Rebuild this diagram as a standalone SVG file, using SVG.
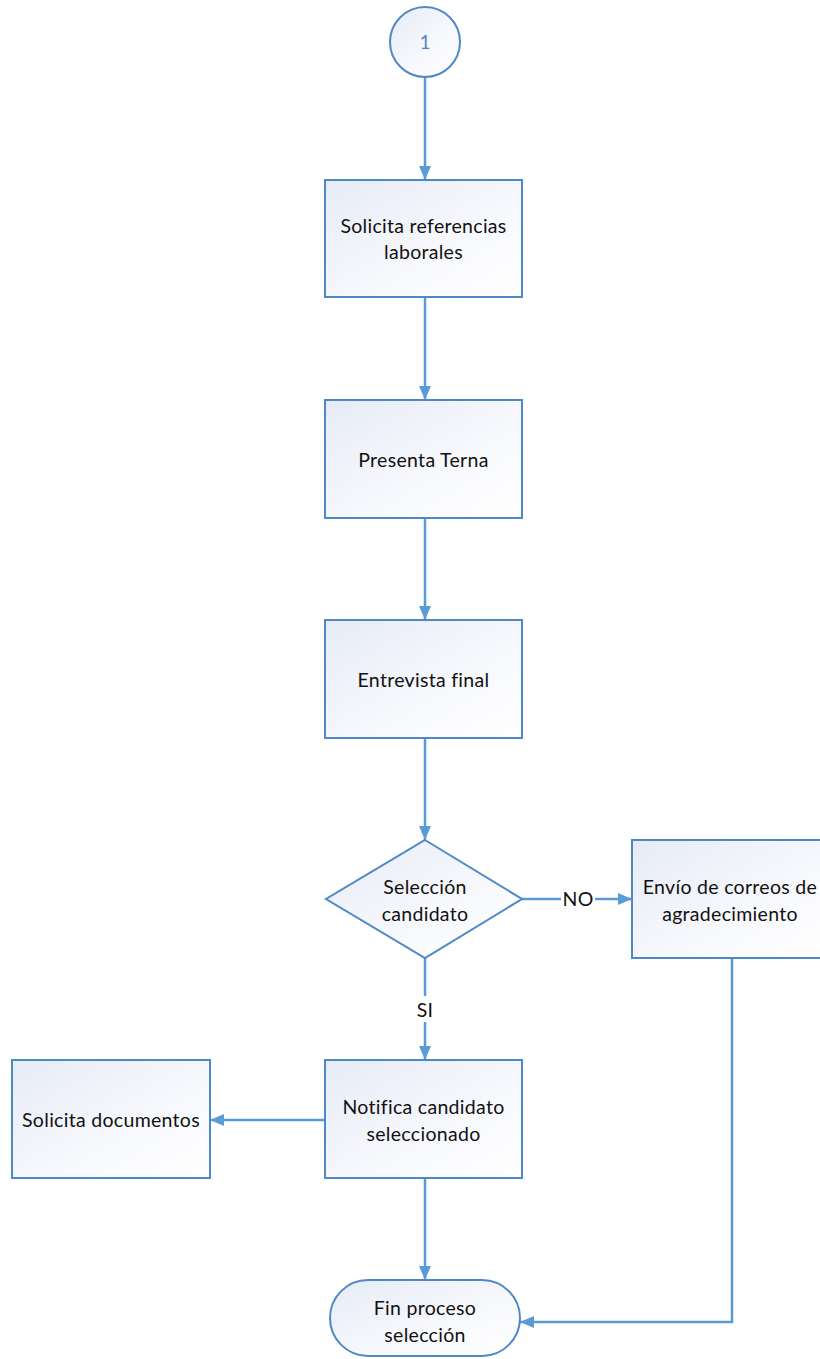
<svg xmlns="http://www.w3.org/2000/svg" width="820" height="1359" viewBox="0 0 820 1359">
  <defs>
    <linearGradient id="nodeFill" x1="0" y1="0" x2="1" y2="1">
      <stop offset="0" stop-color="#e6ebf6"/>
      <stop offset="0.6" stop-color="#f8f9fd"/>
      <stop offset="1" stop-color="#ffffff"/>
    </linearGradient>
    <marker id="arrow" viewBox="0 0 14 12" refX="14" refY="6" markerWidth="14" markerHeight="12" markerUnits="userSpaceOnUse" orient="auto">
      <path d="M0,0 L14,6 L0,12 Z" fill="#5b9bd5"/>
    </marker>
    <style>
      .node { fill: url(#nodeFill); stroke: #4f89c5; stroke-width: 2; }
      .conn { fill: none; stroke: #5b9bd5; stroke-width: 2.5; marker-end: url(#arrow); }
      .label { font-family: "Lato", "Liberation Sans", sans-serif; font-size: 19.5px; letter-spacing: 0.3px; fill: #111111; text-anchor: middle; }
      .num { font-family: "Lato", "Liberation Sans", sans-serif; font-size: 19px; fill: #4f89c5; text-anchor: middle; }
    </style>
  </defs>

  <g id="connectors">
    <path class="conn" d="M425,77 L425,180"/>
    <path class="conn" d="M425,297 L425,400"/>
    <path class="conn" d="M425,518 L425,620"/>
    <path class="conn" d="M425,738 L425,840"/>
    <path class="conn" d="M522,899 L632,899"/>
    <path class="conn" d="M425,958 L425,1060"/>
    <path class="conn" d="M325,1120 L210,1120"/>
    <path class="conn" d="M425,1178 L425,1280"/>
    <path class="conn" d="M732,958 L732,1322 L520,1322"/>
    <rect x="561" y="888" width="34" height="22" fill="#ffffff"/>
    <text class="label" x="578" y="906">NO</text>
    <rect x="414" y="996" width="22" height="26" fill="#ffffff"/>
    <text class="label" x="425" y="1017">SI</text>
  </g>

  <g id="start">
    <circle class="node" cx="425" cy="42" r="35"/>
    <text class="num" x="425" y="49">1</text>
  </g>

  <g id="solicita-referencias">
    <rect class="node" x="325" y="180" width="197" height="117"/>
    <text class="label" x="423.5" y="233">Solicita referencias</text>
    <text class="label" x="423.5" y="259">laborales</text>
  </g>

  <g id="presenta-terna">
    <rect class="node" x="325" y="400" width="197" height="118"/>
    <text class="label" x="423.5" y="467">Presenta Terna</text>
  </g>

  <g id="entrevista-final">
    <rect class="node" x="325" y="620" width="197" height="118"/>
    <text class="label" x="423.5" y="687">Entrevista final</text>
  </g>

  <g id="seleccion-candidato">
    <polygon class="node" points="425,840 522,899 425,958 326,899"/>
    <text class="label" x="425" y="894">Selección</text>
    <text class="label" x="425" y="921">candidato</text>
  </g>

  <g id="envio-correos">
    <rect class="node" x="632" y="840" width="197" height="118"/>
    <text class="label" x="730" y="894">Envío de correos de</text>
    <text class="label" x="730" y="921">agradecimiento</text>
  </g>

  <g id="notifica-candidato">
    <rect class="node" x="325" y="1060" width="197" height="118"/>
    <text class="label" x="423.5" y="1114">Notifica candidato</text>
    <text class="label" x="423.5" y="1141">seleccionado</text>
  </g>

  <g id="solicita-documentos">
    <rect class="node" x="12" y="1060" width="198" height="118"/>
    <text class="label" x="111" y="1127">Solicita documentos</text>
  </g>

  <g id="fin-proceso">
    <rect class="node" x="330" y="1280" width="190" height="76" rx="38" ry="38"/>
    <text class="label" x="425" y="1315">Fin proceso</text>
    <text class="label" x="425" y="1342">selección</text>
  </g>
</svg>
